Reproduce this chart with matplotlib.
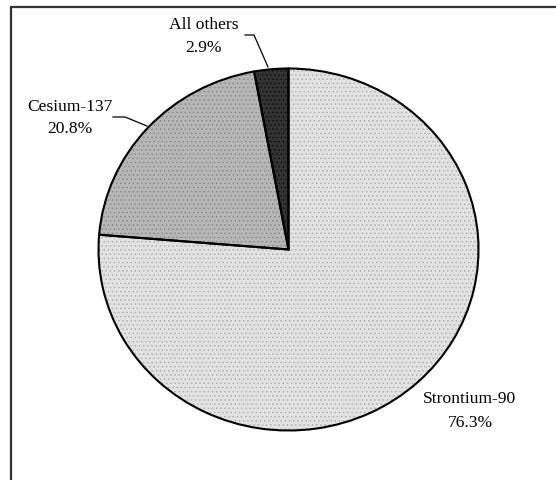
"""Pie chart of activity share by radionuclide."""

import matplotlib

matplotlib.use("Agg")
import matplotlib.pyplot as plt
from matplotlib.patches import Rectangle

labels = ["Strontium-90", "Cesium-137", "All others"]
shares = [76.3, 20.8, 2.9]
pct_labels = ["76.3%", "20.8%", "2.9%"]

fills = ["#e2e2e2", "#b6b6b6", "#333333"]
dots = ["#b0b0b0", "#8a8a8a", "#111111"]

W, H = 556, 480
CX, CY, RX, RY = 288.5, 249.5, 190.0, 181.0

plt.rcParams["font.family"] = ["Liberation Serif", "DejaVu Serif"]
plt.rcParams["hatch.linewidth"] = 0.6

fig = plt.figure(figsize=(W / 100, H / 100), dpi=100)
ax = fig.add_axes([0, 0, 1, 1])

# texture layer, then outlines on top
wedges, _ = ax.pie(shares, startangle=90, counterclock=False, colors=fills,
                   wedgeprops=dict(linewidth=0))
for w, c in zip(wedges, dots):
    w.set_hatch("....")
    w.set_edgecolor(c)
ax.pie(shares, startangle=90, counterclock=False,
       wedgeprops=dict(facecolor="none", edgecolor="black", linewidth=1.5))

ax.set_aspect("auto")
ax.set_xlim(-CX / RX, (W - CX) / RX)
ax.set_ylim(-(H - CY) / RY, CY / RY)
ax.axis("off")


def px(x, y):
    return (x - CX) / RX, (CY - y) / RY


label_pos = [(470, 399, 423), (70, 107, 129), (204, 25, 48)]
for name, pct, (x, y1, y2) in zip(labels, pct_labels, label_pos):
    ax.text(*px(x, y1), name, ha="center", va="center", fontsize=12.6)
    ax.text(*px(x, y2), pct, ha="center", va="center", fontsize=12.6)

leaders = [
    [(113, 117), (125, 117), (147, 126)],
    [(245, 35), (254, 35), (268, 67)],
]
for pts in leaders:
    xs, ys = zip(*[px(x, y) for x, y in pts])
    ax.plot(xs, ys, color="black", linewidth=0.9, clip_on=False)

fig.patches.append(Rectangle((11 / W, -0.1), 1.0, 1.1 - 7 / H, transform=fig.transFigure,
                             fill=False, edgecolor="#333333", linewidth=1.6))

fig.savefig("out.png", dpi=100)
